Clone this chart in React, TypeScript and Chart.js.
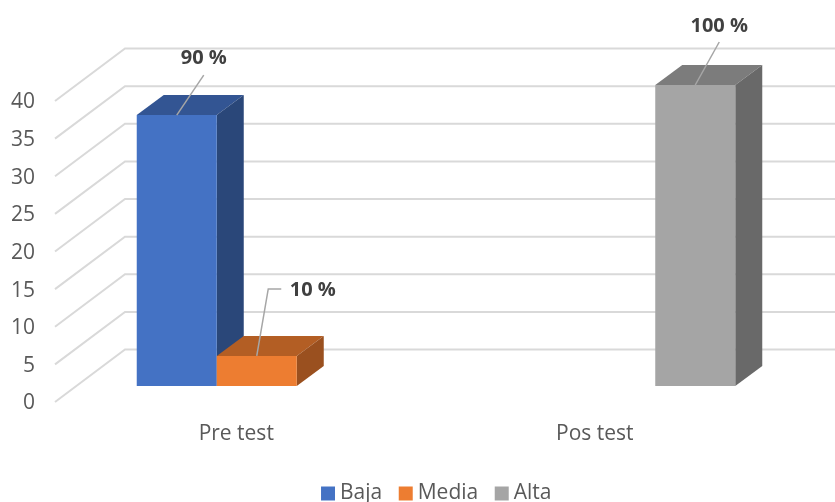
import React, { useEffect, useRef } from "react";
import { Chart, registerables } from "chart.js";

Chart.register(...registerables);

// Respondent counts per level; the axis tops out at the group size.
const categories = ["Pre test", "Pos test"];
const groupSize = 40;
const baja = [36, null];
const media = [4, null];
const alta = [null, 40];
const levels = ["Baja", "Media", "Alta"];
const frontColors = ["#4472C4", "#ED7D31", "#A5A5A5"];
const topColors = ["#335593", "#B35E24", "#7C7C7C"];
const sideColors = ["#2A4779", "#9A501F", "#696969"];

// Extruded box geometry: bars sit in front of the wall, the wall further back.
const barShift = { x: 20.5, y: -17.5 };
const barDepth = { x: 27, y: -20 };
const wallStart = { x: -2, y: -1.5 };
const wallDepth = { x: 70, y: -52.5 };

// Callout of each series, relative to the centre of its bar's front top edge.
const callouts = [
  { text: { x: 27, y: -57 }, path: [{ x: 27, y: -40 }] },
  { text: { x: 56, y: -65.5 }, path: [{ x: 11.5, y: -67 }, { x: 24.5, y: -67 }] },
  { text: { x: 24, y: -59 }, path: [{ x: 24, y: -43 }] },
];

const box3d = {
  id: "box3d",
  beforeDraw(chart: any) {
    // The legend is centred under the extended wall rather than the axis plane.
    chart.legend.left = 104;
    chart.legend.top = 461;
  },
  beforeDatasetsDraw(chart: any) {
    const { ctx, scales, chartArea, width } = chart;
    const y = scales.y;

    ctx.save();
    ctx.strokeStyle = "#D9D9D9";
    ctx.lineWidth = 2;
    for (const tick of y.ticks) {
      const px = chartArea.left + wallStart.x;
      const py = y.getPixelForValue(tick.value) + wallStart.y;
      ctx.beginPath();
      ctx.moveTo(px, py);
      ctx.lineTo(px + wallDepth.x, py + wallDepth.y);
      ctx.lineTo(width, py + wallDepth.y);
      ctx.stroke();
    }
    ctx.restore();

    chart.data.datasets.forEach((ds: any, di: number) => {
      const meta = chart.getDatasetMeta(di);
      meta.data.forEach((bar: any, i: number) => {
        if (ds.data[i] == null) return;
        const left = bar.x - bar.width / 2;
        const right = bar.x + bar.width / 2;
        ctx.save();
        ctx.translate(barShift.x, barShift.y);
        ctx.fillStyle = topColors[di];
        ctx.beginPath();
        ctx.moveTo(left, bar.y);
        ctx.lineTo(left + barDepth.x, bar.y + barDepth.y);
        ctx.lineTo(right + barDepth.x, bar.y + barDepth.y);
        ctx.lineTo(right, bar.y);
        ctx.closePath();
        ctx.fill();
        ctx.fillStyle = sideColors[di];
        ctx.beginPath();
        ctx.moveTo(right, bar.y);
        ctx.lineTo(right + barDepth.x, bar.y + barDepth.y);
        ctx.lineTo(right + barDepth.x, bar.base + barDepth.y);
        ctx.lineTo(right, bar.base);
        ctx.closePath();
        ctx.fill();
        bar.draw(ctx);
        ctx.restore();
      });
    });

    // Percentage callouts go on top of every box.
    chart.data.datasets.forEach((ds: any, di: number) => {
      const meta = chart.getDatasetMeta(di);
      meta.data.forEach((bar: any, i: number) => {
        const value = ds.data[i];
        if (value == null) return;
        const ax = bar.x + barShift.x;
        const ay = bar.y + barShift.y;
        const c = callouts[di];
        ctx.save();
        ctx.strokeStyle = "#A6A6A6";
        ctx.lineWidth = 1.5;
        ctx.beginPath();
        ctx.moveTo(ax, ay);
        c.path.forEach((p) => ctx.lineTo(ax + p.x, ay + p.y));
        ctx.stroke();
        ctx.fillStyle = "#404040";
        ctx.font = "bold 20px 'Open Sans'";
        ctx.textAlign = "center";
        ctx.textBaseline = "middle";
        ctx.fillText(`${(value / groupSize) * 100} %`, ax + c.text.x, ay + c.text.y);
        ctx.restore();
      });
    });
    return false;
  },
};

export default function App() {
  const ref = useRef<HTMLCanvasElement | null>(null);

  useEffect(() => {
    const series = [baja, media, alta];
    const chart = new Chart(ref.current as HTMLCanvasElement, {
      type: "bar",
      data: {
        labels: categories,
        datasets: series.map((data, i) => ({
          label: levels[i],
          data,
          backgroundColor: frontColors[i],
          categoryPercentage: 0.6695,
          barPercentage: 1,
        })),
      },
      plugins: [box3d],
      options: {
        responsive: false,
        animation: false,
        layout: { padding: { top: 102.5, right: 61, bottom: 0, left: 0 } },
        plugins: {
          tooltip: { enabled: false },
          legend: {
            position: "bottom",
            labels: {
              usePointStyle: true,
              pointStyle: "rect",
              boxWidth: 3,
              boxHeight: 14,
              padding: 22,
              color: "#595959",
              font: { family: "'Open Sans'", size: 21 },
            },
          },
        },
        scales: {
          x: {
            grid: { display: false },
            border: { display: false },
            ticks: {
              color: "#595959",
              padding: 10,
              font: { family: "'Open Sans'", size: 21 },
            },
            afterFit(scale: any) {
              scale.height = 45.5;
            },
          },
          y: {
            min: 0,
            max: groupSize,
            grid: { display: false, drawTicks: false },
            border: { display: false },
            ticks: {
              stepSize: 5,
              color: "#595959",
              padding: 22,
              font: { family: "'Open Sans'", size: 21 },
            },
            afterFit(scale: any) {
              scale.width = 57;
            },
          },
        },
      },
    } as any);
    return () => chart.destroy();
  }, []);

  return (
    <div style={{ position: "absolute", left: 0, top: 0, width: 835, height: 502, background: "#fff" }}>
      <canvas ref={ref} width={835} height={502} style={{ display: "block" }} />
    </div>
  );
}
